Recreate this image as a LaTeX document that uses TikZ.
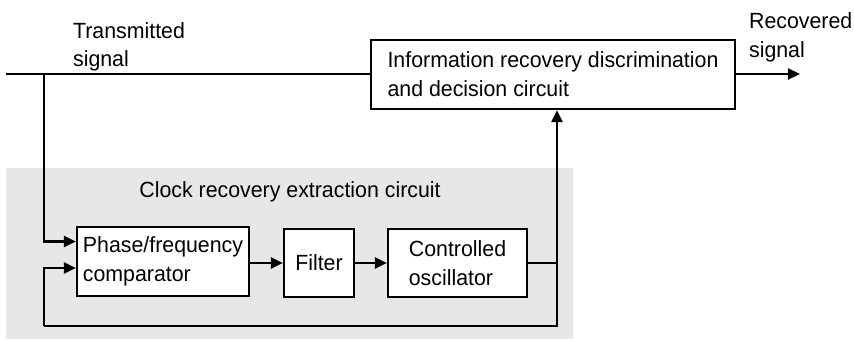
\documentclass[tikz,border=0pt]{standalone}
\usepackage{fontspec}
\setmainfont[FakeStretch=0.97]{Liberation Sans}
\usetikzlibrary{arrows.meta}
\definecolor{panelgray}{HTML}{E6E7E9}
\begin{document}
\begin{tikzpicture}[x=1pt,y=-1pt,
  line width=2.2pt,
  font=\fontsize{22}{29}\selectfont,
  blk/.style={draw,fill=white,inner sep=0pt,align=left},
  arr/.style={-{Triangle[length=12pt,width=11pt]}},
  lbl/.style={anchor=base west,inner sep=0pt,align=left}]
\useasboundingbox (0,0) rectangle (854,341);
\fill[panelgray] (6,168) rectangle (573,339);
% boxes
\node[blk,minimum width=364pt,minimum height=69pt] (info) at (553,74.5) {Information recovery discrimination\\and decision circuit};
\node[blk,minimum width=172pt,minimum height=69pt] (comp) at (163,261.5) {Phase/frequency\\comparator};
\node[blk,minimum width=70pt,minimum height=68pt,align=center] (filt) at (319,263) {Filter};
\node[blk,minimum width=139pt,minimum height=68pt] (osc) at (457.5,263) {Controlled\\oscillator};
% labels
\node[lbl] (tx1) at (72,38) {Transmitted};
\node[lbl] (tx2) at (72,66) {signal};
\node[lbl] (rx1) at (748,28) {Recovered};
\node[lbl] (rx2) at (748,57) {signal};
\node[anchor=base,inner sep=0pt] (clk) at (290,197) {Clock recovery extraction circuit};
% coordinates
\coordinate (in) at (6,74);
\coordinate (br) at (44,74);
\coordinate (out) at (800,74);
\coordinate (vt) at (557,263);
\coordinate (vb) at (557,326);
\coordinate (fb) at (44,326);
% connectors
\draw (in) -- (info.west |- in);
\draw[arr] (info.east |- out) -- (out);
\draw[arr] (br) |- ([yshift=20pt]comp.west);
\draw[arr] (fb) |- ([yshift=-6.5pt]comp.west);
\draw (fb) -- (vb) -- (vt);
\draw[arr] (comp.east |- filt) -- (filt.west);
\draw[arr] (filt) -- (osc.west);
\draw (osc.east) -- (vt);
\draw[arr] (vt) -- (vt |- info.south);
\end{tikzpicture}
\end{document}
